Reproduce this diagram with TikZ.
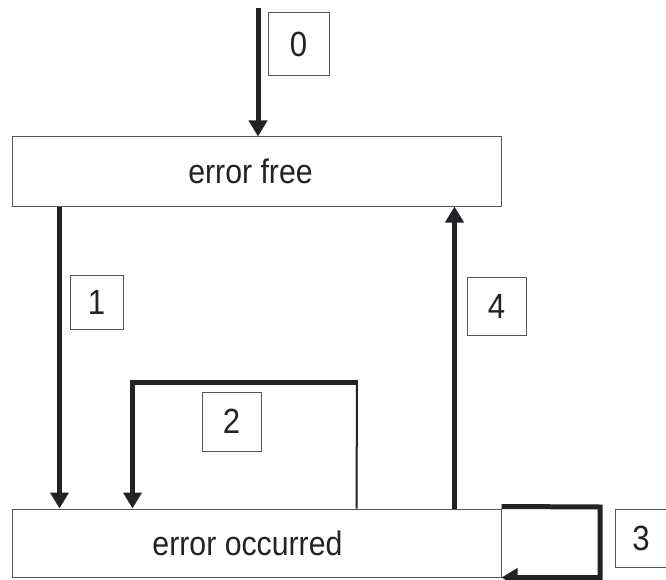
\documentclass[tikz,border=0pt]{standalone}
\usepackage{fontspec}
\usepackage{tikz}
\usepackage{xcolor}
\usetikzlibrary{positioning,shapes,arrows.meta}
\newfontfamily\diagfont[FakeStretch=0.89]{Liberation Sans}
\definecolor{ink}{HTML}{222326}
\definecolor{rim}{HTML}{555555}

\begin{document}
\begin{tikzpicture}[x=1pt,y=-1pt,
  state/.style={draw=rim,line width=1pt,rectangle,minimum width=489pt,minimum height=69pt,
    inner sep=0pt,text=ink,font=\diagfont\fontsize{34}{40}\selectfont},
  tag/.style={draw=rim,line width=1pt,rectangle,inner sep=0pt,text=ink,
    font=\diagfont\fontsize{35}{40}\selectfont},
  flow/.style={draw=ink,line width=5pt,-{Triangle[width=18pt,length=16pt]}},
  thin/.style={draw=ink,line width=2pt}]
\useasboundingbox (0,0) rectangle (666,580);
% states
\node[state] (free) at (256.5,171.5) {error free\hspace*{12pt}};
\node[state,minimum height=68pt] (occ) at (256.5,543) {error occurred\hspace*{18pt}};
% transition labels
\node[tag,minimum width=61pt,minimum height=63pt] (t0) at (298.5,44.5) {0};
\node[tag,minimum width=53pt,minimum height=54pt] (t1) at (96.5,302) {1};
\node[tag,minimum width=59pt,minimum height=59pt] (t2) at (231.5,421.5) {2};
\node[tag,minimum width=52pt,minimum height=58pt] (t3) at (641,538) {3};
\node[tag,minimum width=59pt,minimum height=58pt] (t4) at (496.5,306) {4};
% transitions
\coordinate (start) at (258,8);
\draw[flow] (start) -- (start |- free.north);
\draw[flow] ([xshift=48pt]free.south west) -- ([xshift=48pt]occ.north west);
\draw[flow] ([xshift=-47pt]occ.north east) -- ([xshift=-47pt]free.south east);
\coordinate (s2) at ([xshift=345pt]occ.north west);
\coordinate (k2) at (357,382);
\coordinate (e2) at ([xshift=121pt]occ.north west);
\draw[thin] (s2) -- (k2);
\draw[flow] ([xshift=1pt]k2) -- (k2 -| e2) -- (e2);
\coordinate (k3) at (600,507);
\draw[flow] ([yshift=2pt]occ.north east) -- (k3) -- (k3 |- occ.south) -- (occ.south east);
\end{tikzpicture}
\end{document}
